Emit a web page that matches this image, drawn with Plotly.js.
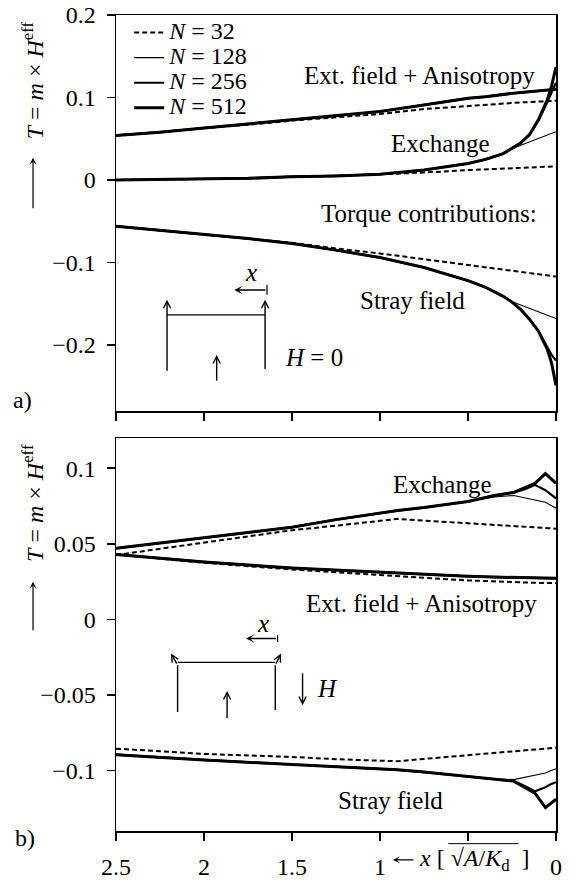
<!DOCTYPE html>
<html><head><meta charset="utf-8">
<script src="https://cdn.plot.ly/plotly-3.0.1.min.js"></script>
<style>body{margin:0;background:#fff;} #chart{width:577px;height:885px;}</style>
</head><body><div id="chart"></div>
<script>
// ================= DATA =================
const legendNames = ['<i>N</i> = 32', '<i>N</i> = 128', '<i>N</i> = 256', '<i>N</i> = 512'];

// Panel a) (H = 0)
const xTop = [2.5, 2.25, 2.0, 1.75, 1.5, 1.25, 1.0, 0.75, 0.5, 0.4, 0.3, 0.25, 0.2, 0.15, 0.1, 0.05, 0.025, 0];

const topExtN32  = [0.054, 0.058, 0.063, 0.067, 0.072, 0.076, 0.080, 0.086, 0.090, 0.0915, 0.093, 0.0935, 0.094, 0.0945, 0.095, 0.0955, 0.096, 0.096];
const topExtN128 = [0.054, 0.058, 0.063, 0.068, 0.073, 0.078, 0.083, 0.091, 0.099, 0.101, 0.104, 0.105, 0.106, 0.107, 0.108, 0.109, 0.1095, 0.110];
const topExtN256 = [0.054, 0.058, 0.063, 0.068, 0.073, 0.078, 0.083, 0.091, 0.099, 0.101, 0.104, 0.105, 0.106, 0.107, 0.108, 0.109, 0.1095, 0.110];
const topExtN512 = [0.054, 0.058, 0.063, 0.068, 0.073, 0.078, 0.083, 0.091, 0.099, 0.101, 0.104, 0.105, 0.106, 0.107, 0.108, 0.109, 0.1095, 0.110];

const topExchN32  = [0.000, 0.0005, 0.001, 0.002, 0.004, 0.005, 0.007, 0.009, 0.012, 0.013, 0.0135, 0.014, 0.0145, 0.015, 0.0155, 0.016, 0.016, 0.0165];
const topExchN128 = [0.000, 0.0005, 0.001, 0.002, 0.004, 0.005, 0.007, 0.012, 0.020, 0.025, 0.032, 0.038, 0.042, 0.046, 0.050, 0.054, 0.0565, 0.0585];
const topExchN256 = [0.000, 0.0005, 0.001, 0.002, 0.004, 0.005, 0.007, 0.012, 0.020, 0.025, 0.032, 0.038, 0.045, 0.055, 0.072, 0.094, 0.106, 0.118];
const topExchN512 = [0.000, 0.0005, 0.001, 0.002, 0.004, 0.005, 0.007, 0.012, 0.020, 0.025, 0.032, 0.038, 0.045, 0.055, 0.073, 0.097, 0.114, 0.137];

const topStrayN32  = [-0.056, -0.061, -0.066, -0.071, -0.076, -0.083, -0.089, -0.096, -0.103, -0.106, -0.109, -0.110, -0.1115, -0.113, -0.1145, -0.116, -0.1165, -0.117];
const topStrayN128 = [-0.056, -0.061, -0.066, -0.071, -0.077, -0.085, -0.094, -0.106, -0.122, -0.130, -0.141, -0.1475, -0.1515, -0.1555, -0.160, -0.164, -0.166, -0.168];
const topStrayN256 = [-0.056, -0.061, -0.066, -0.071, -0.077, -0.085, -0.094, -0.106, -0.122, -0.130, -0.141, -0.148, -0.157, -0.169, -0.183, -0.202, -0.212, -0.219];
const topStrayN512 = [-0.056, -0.061, -0.066, -0.071, -0.077, -0.085, -0.094, -0.106, -0.122, -0.130, -0.141, -0.148, -0.157, -0.169, -0.183, -0.205, -0.222, -0.249];

// Panel b) (field H applied)
const xBot = [2.5, 2.0, 1.5, 1.25, 1.0, 0.9, 0.75, 0.5, 0.35, 0.24, 0.18, 0.12, 0.06, 0.03, 0];

const botExchN32  = [0.0426, 0.051, 0.059, 0.062, 0.065, 0.0665, 0.0654, 0.0636, 0.0625, 0.0617, 0.0613, 0.0609, 0.0604, 0.0602, 0.060];
const botExchN128 = [0.047, 0.054, 0.061, 0.066, 0.0705, 0.072, 0.074, 0.078, 0.081, 0.082, 0.0805, 0.079, 0.0775, 0.0755, 0.0736];
const botExchN256 = [0.047, 0.054, 0.061, 0.066, 0.0705, 0.072, 0.074, 0.078, 0.082, 0.084, 0.086, 0.089, 0.0855, 0.083, 0.080];
const botExchN512 = [0.047, 0.054, 0.061, 0.066, 0.0705, 0.072, 0.074, 0.078, 0.082, 0.084, 0.087, 0.090, 0.0965, 0.093, 0.090];

const botExtN32  = [0.043, 0.0375, 0.033, 0.031, 0.029, 0.0285, 0.0275, 0.0258, 0.025, 0.0245, 0.0243, 0.0242, 0.024, 0.024, 0.024];
const botExtN128 = [0.043, 0.038, 0.034, 0.0325, 0.031, 0.0305, 0.030, 0.0285, 0.028, 0.0278, 0.0276, 0.0275, 0.0274, 0.0273, 0.0272];
const botExtN256 = [0.043, 0.038, 0.034, 0.0325, 0.031, 0.0305, 0.030, 0.0285, 0.028, 0.0278, 0.0276, 0.0275, 0.0274, 0.0273, 0.0272];
const botExtN512 = [0.043, 0.038, 0.034, 0.0325, 0.031, 0.0305, 0.030, 0.0285, 0.028, 0.0278, 0.0276, 0.0275, 0.0274, 0.0273, 0.0272];

const botStrayN32  = [-0.0855, -0.089, -0.091, -0.0925, -0.0935, -0.0938, -0.0923, -0.0898, -0.0883, -0.0873, -0.0867, -0.0861, -0.0855, -0.0852, -0.0849];
const botStrayN128 = [-0.0895, -0.093, -0.096, -0.0975, -0.099, -0.0995, -0.101, -0.104, -0.1055, -0.106, -0.1046, -0.1032, -0.1016, -0.1002, -0.0988];
const botStrayN256 = [-0.0895, -0.093, -0.096, -0.0975, -0.099, -0.0995, -0.101, -0.104, -0.1055, -0.107, -0.110, -0.1137, -0.111, -0.109, -0.1077];
const botStrayN512 = [-0.0895, -0.093, -0.096, -0.0975, -0.099, -0.0995, -0.101, -0.104, -0.1055, -0.107, -0.111, -0.115, -0.1245, -0.122, -0.119];

// Axis ticks
const xTickVals = [2.5, 2, 1.5, 1, 0.5, 0];
const xTickText = ['2.5', '2', '1.5', '1', ' ', '0'];

// ================= STYLES =================
const FONT = 'Liberation Serif, Times New Roman, serif';
const lineStyles = [
  {color: '#000', width: 2, dash: '5px,3px'},
  {color: '#000', width: 1.1},
  {color: '#000', width: 2.2},
  {color: '#000', width: 3}
];

const traces = [];
function addGroup(x, ys, xa, ya, legend) {
  ys.forEach((y, i) => {
    traces.push({
      type: 'scatter', mode: 'lines', x: x, y: y,
      xaxis: xa, yaxis: ya,
      name: legendNames[i], legendgroup: 'n' + i,
      showlegend: legend,
      line: lineStyles[i], hoverinfo: 'skip'
    });
  });
}
addGroup(xTop, [topExtN32, topExtN128, topExtN256, topExtN512], 'x', 'y', true);
addGroup(xTop, [topExchN32, topExchN128, topExchN256, topExchN512], 'x', 'y', false);
addGroup(xTop, [topStrayN32, topStrayN128, topStrayN256, topStrayN512], 'x', 'y', false);
addGroup(xBot, [botExchN32, botExchN128, botExchN256, botExchN512], 'x2', 'y2', false);
addGroup(xBot, [botExtN32, botExtN128, botExtN256, botExtN512], 'x2', 'y2', false);
addGroup(xBot, [botStrayN32, botStrayN128, botStrayN256, botStrayN512], 'x2', 'y2', false);

// legend text rendered at 24px while row spacing follows the smaller legend font
traces.forEach(t => { if (t.showlegend) t.name = '<span style="font-size:24px">' + t.name + '</span>'; });

const axisCommon = {
  showline: true, mirror: true, linecolor: '#000', linewidth: 1.5,
  ticks: 'outside', ticklen: 8, tickwidth: 1.5, tickcolor: '#000',
  showgrid: false, zeroline: false,
  tickfont: {family: FONT, size: 24, color: '#000'}
};

const txt = (text, x, y, xref, yref, extra) => Object.assign({
  text: text, x: x, y: y, xref: xref, yref: yref, showarrow: false,
  font: {family: FONT, size: 25, color: '#000'}, xanchor: 'center', yanchor: 'middle'
}, extra || {});

const arrow = (x, y, ax, ay, xref, yref, head) => ({
  text: '', x: x, y: y, ax: ax, ay: ay, xref: xref, yref: yref,
  axref: xref, ayref: yref, showarrow: true,
  arrowhead: head, arrowsize: 1, arrowwidth: 1.4, arrowcolor: '#000'
});
const pxArrow = (x, y, ax, ay, head) => ({
  text: '', x: x, y: y, ax: ax, ay: ay, xref: 'paper', yref: 'paper',
  showarrow: true, arrowhead: head, arrowsize: 1, arrowwidth: 1.2, arrowcolor: '#000'
});

const annotations = [
  // panel a labels
  txt('Ext. field + Anisotropy', 0.777, 0.1264, 'x', 'y'),
  txt('Exchange', 0.657, 0.044, 'x', 'y'),
  txt('Torque contributions:', 0.72, -0.041, 'x', 'y'),
  txt('Stray field', 0.816, -0.146, 'x', 'y'),
  txt('<i>H</i> = 0', 1.373, -0.215, 'x', 'y'),
  txt('<i>x</i>', 1.733, -0.112, 'x', 'y'),
  // panel a schematic
  arrow(2.21, -0.145, 2.21, -0.233, 'x', 'y', 5),
  arrow(1.653, -0.145, 1.653, -0.231, 'x', 'y', 5),
  arrow(1.928, -0.212, 1.928, -0.245, 'x', 'y', 5),
  arrow(1.828, -0.1333, 1.642, -0.1333, 'x', 'y', 3),
  // panel b labels
  txt('Exchange', 0.646, 0.089, 'x2', 'y2'),
  txt('Ext. field + Anisotropy', 0.765, 0.0108, 'x2', 'y2'),
  txt('Stray field', 0.942, -0.1197, 'x2', 'y2'),
  txt('<i>H</i>', 1.30, -0.0456, 'x2', 'y2'),
  txt('<i>x</i>', 1.667, -0.0027, 'x2', 'y2'),
  // panel b schematic
  arrow(2.1875, -0.0225, 2.15, -0.0303, 'x2', 'y2', 5),
  arrow(1.5625, -0.0225, 1.595, -0.0303, 'x2', 'y2', 5),
  arrow(1.869, -0.0473, 1.869, -0.0663, 'x2', 'y2', 5),
  arrow(1.761, -0.0126, 1.582, -0.0126, 'x2', 'y2', 3),
  arrow(1.44, -0.0568, 1.44, -0.0347, 'x2', 'y2', 5),
  // y-axis titles
  txt('<i>T</i> = <i>m</i> × <i>H</i><sup>eff</sup>', -0.1886, 0.920, 'paper', 'paper', {textangle: -90, font: {family: FONT, size: 24, color: '#000'}}),
  txt('<i>T</i> = <i>m</i> × <i>H</i><sup>eff</sup>', -0.1886, 0.402, 'paper', 'paper', {textangle: -90, font: {family: FONT, size: 24, color: '#000'}}),
  pxArrow(-0.1886, 0.825, 0, 52, 3),
  pxArrow(-0.1886, 0.3055, 0, 50, 3),
  // panel tags
  txt('a)', -0.2136, 0.528, 'paper', 'paper', {font: {family: FONT, size: 24, color: '#000'}}),
  txt('b)', -0.2068, -0.0086, 'paper', 'paper', {font: {family: FONT, size: 24, color: '#000'}}),
  // x-axis title
  pxArrow(0.6295, -0.0355, 22, 0, 3),
  txt('<i>x</i> [\u00a0√<i>A</i>/<i>K</i><sub>d</sub>\u00a0\u00a0]', 0.684, -0.0355, 'paper', 'paper', {xanchor: 'left', font: {family: FONT, size: 24, color: '#000'}})
];

const shapes = [
  // panel a schematic: crossbar and x-marker bar
  {type: 'line', xref: 'x', yref: 'y', x0: 2.21, x1: 1.653, y0: -0.1636, y1: -0.1636, line: {color: '#000', width: 1.2}},
  {type: 'line', xref: 'x', yref: 'y', x0: 1.642, x1: 1.642, y0: -0.127, y1: -0.139, line: {color: '#000', width: 1.2}},
  // panel b schematic
  {type: 'line', xref: 'x2', yref: 'y2', x0: 2.15, x1: 2.15, y0: -0.0613, y1: -0.0303, line: {color: '#000', width: 1.4}},
  {type: 'line', xref: 'x2', yref: 'y2', x0: 1.595, x1: 1.595, y0: -0.0600, y1: -0.0303, line: {color: '#000', width: 1.4}},
  {type: 'line', xref: 'x2', yref: 'y2', x0: 2.15, x1: 1.595, y0: -0.0285, y1: -0.0285, line: {color: '#000', width: 1.2}},
  {type: 'line', xref: 'x2', yref: 'y2', x0: 1.582, x1: 1.582, y0: -0.0104, y1: -0.0150, line: {color: '#000', width: 1.2}},
  // overline of the square root in the x title
  {type: 'line', xref: 'paper', yref: 'paper', x0: 0.755, x1: 0.915, y0: -0.0155, y1: -0.0155, line: {color: '#000', width: 1}}
];

const layout = {
  width: 577, height: 885,
  margin: {l: 116, r: 21, t: 15, b: 54},
  paper_bgcolor: '#fff', plot_bgcolor: '#fff',
  font: {family: FONT, color: '#000', size: 24},
  showlegend: true,
  legend: {x: 0.03, y: 1.0, xanchor: 'left', yanchor: 'top', bgcolor: 'rgba(0,0,0,0)',
           font: {family: FONT, size: 17, color: '#000'}, tracegroupgap: 0, itemwidth: 30},
  xaxis: Object.assign({}, axisCommon, {domain: [0, 1], range: [2.5, 0], anchor: 'y',
          tickmode: 'array', tickvals: xTickVals, showticklabels: false}),
  yaxis: Object.assign({}, axisCommon, {domain: [0.5147, 1], range: [-0.28, 0.2], anchor: 'x',
          dtick: 0.1, tick0: 0, ticklabelstandoff: 6}),
  xaxis2: Object.assign({}, axisCommon, {domain: [0, 1], range: [2.5, 0], anchor: 'y2',
          tickmode: 'array', tickvals: xTickVals, ticktext: xTickText, ticklabelstandoff: 6}),
  yaxis2: Object.assign({}, axisCommon, {domain: [0, 0.4816], range: [-0.14, 0.12], anchor: 'x2',
          dtick: 0.05, tick0: 0, ticklabelstandoff: 6}),
  annotations: annotations,
  shapes: shapes
};

Plotly.newPlot('chart', traces, layout, {staticPlot: true, displayModeBar: false});
</script>
</body></html>
